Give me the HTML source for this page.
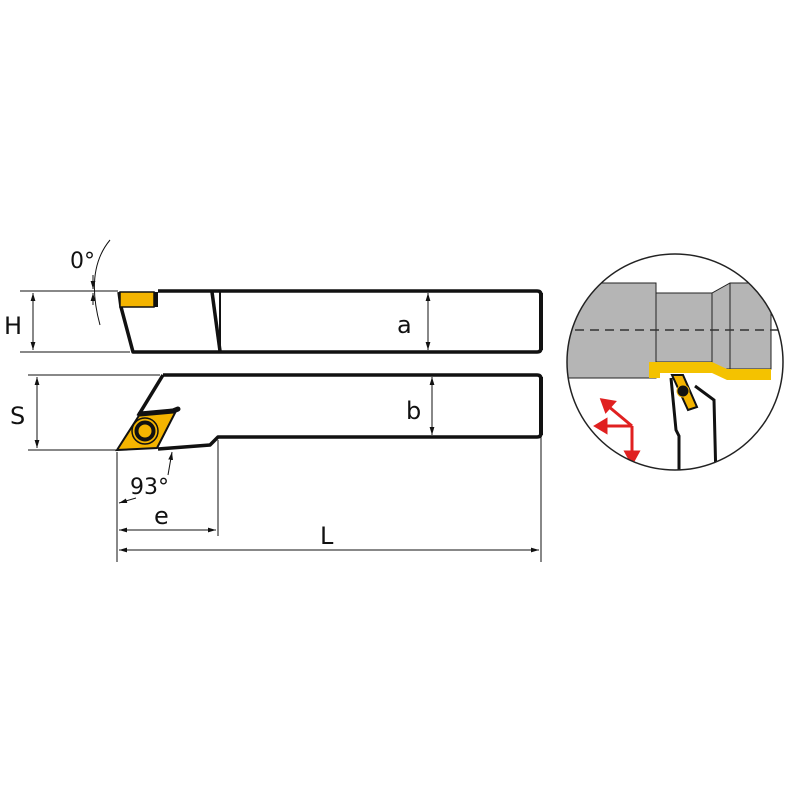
<!DOCTYPE html>
<html><head><style>body{margin:0;background:#fff}svg{display:block}text{font-family:"DejaVu Sans","Liberation Sans",sans-serif;fill:#111}</style></head><body>
<svg width="800" height="800" viewBox="0 0 800 800" xmlns="http://www.w3.org/2000/svg">
<defs>
<marker id="ar" viewBox="0 0 10 10" refX="10" refY="5" markerWidth="8" markerHeight="8" orient="auto-start-reverse"><path d="M0,2 L10,5 L0,8z" fill="#111"/></marker>
<clipPath id="cc"><circle cx="675" cy="362" r="108"/></clipPath>
</defs>
<g stroke="#111" stroke-width="1" fill="none">
<!-- extension lines -->
<line x1="20" y1="291" x2="118" y2="291"/><line x1="20" y1="352" x2="130" y2="352"/>
<line x1="28" y1="375" x2="160" y2="375"/><line x1="28" y1="450" x2="117" y2="450"/>
<line x1="117" y1="452" x2="117" y2="562"/><line x1="218" y1="440" x2="218" y2="536"/><line x1="541" y1="437" x2="541" y2="562"/>
<!-- dims -->
<line x1="33" y1="293" x2="33" y2="350" marker-start="url(#ar)" marker-end="url(#ar)"/>
<line x1="37" y1="377" x2="37" y2="448" marker-start="url(#ar)" marker-end="url(#ar)"/>
<line x1="428" y1="293" x2="428" y2="350" marker-start="url(#ar)" marker-end="url(#ar)"/>
<line x1="432" y1="377" x2="432" y2="435" marker-start="url(#ar)" marker-end="url(#ar)"/>
<line x1="119" y1="530" x2="216" y2="530" marker-start="url(#ar)" marker-end="url(#ar)"/>
<line x1="119" y1="550" x2="539" y2="550" marker-start="url(#ar)" marker-end="url(#ar)"/>
<path d="M110,240 Q85,270 100,325"/>
<line x1="93" y1="275" x2="93" y2="289" marker-end="url(#ar)"/><line x1="93" y1="305" x2="93" y2="293" marker-end="url(#ar)"/>
<path d="M136,498 L119,503" marker-end="url(#ar)"/>
<line x1="168" y1="475" x2="172" y2="452" marker-end="url(#ar)"/>
</g>
<!-- top bar -->
<g stroke="#111" stroke-width="3.5" fill="none" stroke-linejoin="round">
<path d="M158,291 L537,291 Q541,291 541,295 L541,348 Q541,352 537,352 L133,352 L121,307 L119,292"/>
<line x1="212" y1="292" x2="220" y2="351"/><line x1="220" y1="292" x2="220" y2="351" stroke-width="2"/>
<path d="M163,375 L537,375 Q541,375 541,379 L541,433 Q541,437 537,437 L218,437 L210,445 L158,449"/>
<path d="M163,375 L138,416"/>
</g>
<rect x="539" y="293" width="4" height="57" fill="#111"/><rect x="539" y="377" width="4" height="58" fill="#111"/>
<rect x="120" y="292" width="34" height="15" fill="#f4b400" stroke="#111" stroke-width="1.5"/>
<rect x="154" y="292" width="4" height="15" fill="#111"/>
<!-- insert -->
<path d="M117,450 L140,414 L177,409 L157,448 Z" fill="#f4b400" stroke="#111" stroke-width="2"/>
<path d="M140,414 L173,411 L178,409" stroke="#111" stroke-width="5" fill="none" stroke-linecap="round"/>
<circle cx="145" cy="431" r="13" fill="#f4b400" stroke="#111" stroke-width="1.5"/>
<circle cx="145" cy="431" r="8.5" fill="none" stroke="#111" stroke-width="4"/>
<!-- labels -->
<text x="4" y="334" font-size="24">H</text>
<text x="10" y="424" font-size="24">S</text>
<text x="397" y="333" font-size="24">a</text>
<text x="406" y="419" font-size="24">b</text>
<text x="154" y="524" font-size="24">e</text>
<text x="320" y="544" font-size="24">L</text>
<text x="130" y="494" font-size="22">93°</text>
<text x="70" y="268" font-size="22">0°</text>
<!-- circle detail -->
<g clip-path="url(#cc)">
<rect x="560" y="250" width="230" height="240" fill="#fff"/>
<path d="M560,283 L656,283 L656,293 L712,293 L730,283 L771,283 L771,369 L712,369 L712,362 L656,362 L656,378 L560,378Z" fill="#b5b5b5" stroke="#222" stroke-width="1"/>
<line x1="656" y1="293" x2="656" y2="362" stroke="#222"/><line x1="712" y1="293" x2="712" y2="362" stroke="#222"/><line x1="730" y1="283" x2="730" y2="369" stroke="#222"/>
<line x1="560" y1="330" x2="790" y2="330" stroke="#333" stroke-width="1.5" stroke-dasharray="9,6"/>
<path d="M649,362 L712,362 L727,369 L771,369 L771,380 L727,380 L712,373 L660,373 L660,378 L649,378Z" fill="#f4c200"/>
<path d="M672,375 L683,375 L697,407 L688,410 Z" fill="#f4b400" stroke="#111" stroke-width="2"/>
<circle cx="683" cy="391" r="6" fill="#111" stroke="#f4b400" stroke-width="1"/>
<path d="M671,378 L676,430 L679,436 L679,480 M695,386 L714,400 L716,480" stroke="#111" stroke-width="3" fill="none"/>
<g stroke="#e02020" stroke-width="3" fill="#e02020">
<line x1="632" y1="426" x2="608" y2="406"/><path d="M602,400 L614,402 L606,411Z"/>
<line x1="632" y1="426" x2="602" y2="426"/><path d="M596,426 L606,420 L606,432Z"/>
<line x1="632" y1="426" x2="632" y2="455"/><path d="M632,463 L626,452 L638,452Z"/>
</g>
</g>
<circle cx="675" cy="362" r="108" fill="none" stroke="#222" stroke-width="1.5"/>
</svg>
</body></html>
